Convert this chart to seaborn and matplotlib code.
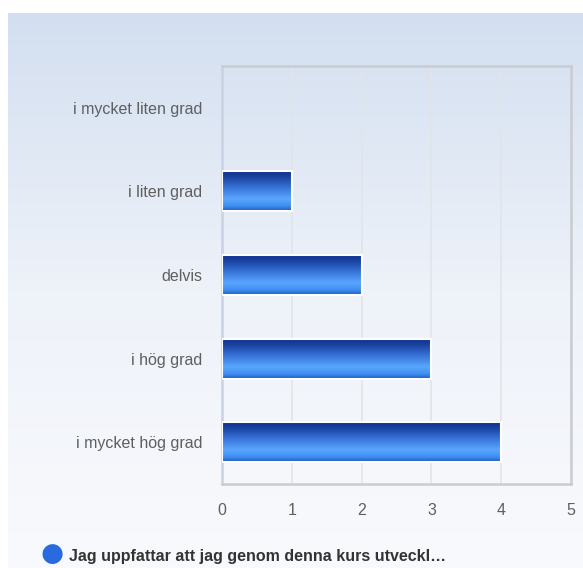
import numpy as np
import pandas as pd
import matplotlib
matplotlib.use("Agg")
import matplotlib.pyplot as plt
from matplotlib.colors import LinearSegmentedColormap
import seaborn as sns

categories = ["i mycket liten grad", "i liten grad", "delvis", "i hög grad", "i mycket hög grad"]
counts = [0, 1, 2, 3, 4]
series_name = "Jag uppfattar att jag genom denna kurs utveckl…"

df = pd.DataFrame({"kategori": categories, "antal": counts})

sns.set_style("white")
plt.rcParams["font.family"] = ["Liberation Sans", "DejaVu Sans"]

fig = plt.figure(figsize=(5.83, 5.68), dpi=100)

# background panel with vertical gradient
bg = fig.add_axes([8 / 583, 0, 1 - 8 / 583, 1 - 13 / 568], zorder=-10)
bg_cmap = LinearSegmentedColormap.from_list("bg", ["#f9fafd", "#eef2f9", "#d3dff0"])
bg.imshow(np.linspace(0, 1, 256).reshape(-1, 1), aspect="auto", cmap=bg_cmap,
          origin="lower", extent=[0, 1, 0, 1])
bg.set_axis_off()

ax = fig.add_axes([222 / 583, 1 - 484 / 568, (571 - 222) / 583, (484 - 66) / 568])
ax.patch.set_alpha(0)

sns.barplot(data=df, x="antal", y="kategori", orient="h", ax=ax,
            width=0.48, color="#2a5fc8", edgecolor="white", linewidth=1.5, zorder=3)

# vertical gradient fill for each bar
bar_cmap = LinearSegmentedColormap.from_list(
    "bar", [(0, "#1a55c0"), (0.12, "#3f8ef0"), (0.3, "#5aa6ff"),
            (0.55, "#3a78dc"), (0.8, "#1d48a8"), (1, "#0b2c88")])
grad = np.linspace(0, 1, 256).reshape(-1, 1)
for p in ax.patches:
    w = p.get_width()
    if w <= 0:
        p.set_visible(False)
        continue
    x0, y0 = p.get_x(), p.get_y()
    h = p.get_height()
    im = ax.imshow(grad, aspect="auto", cmap=bar_cmap, origin="lower",
                   extent=[x0, x0 + w, y0 + h, y0], zorder=3.5)
    im.set_clip_path(p)
    p.set_facecolor("none")
    p.set_zorder(4)

ax.set_xlim(0, 5)
ax.set_ylim(4.5, -0.5)
ax.set_xticks(range(6))
ax.xaxis.grid(True, color="#e2e4e8", linewidth=1.2, zorder=0)
ax.set_axisbelow(True)
for s in ax.spines.values():
    s.set_color("#c9ccd2")
    s.set_linewidth(1.8)
ax.spines["left"].set_color("#c8d2e4")
ax.set_xlabel("")
ax.set_ylabel("")
ax.tick_params(axis="both", length=0, labelsize=11.5, labelcolor="#5f5f5f")
ax.tick_params(axis="x", pad=14)
ax.tick_params(axis="y", pad=14)
for t in ax.get_yticklabels():
    t.set_va("center_baseline")

# legend
fig.text(52 / 583, 1 - 554 / 568, "●", fontsize=19, color="#2a6ae0",
         ha="center", va="center", family=["DejaVu Sans"])
fig.text(69 / 583, 1 - 556 / 568, series_name, fontsize=11.5, fontweight="bold",
         color="#333333", ha="left", va="center")

fig.savefig("out.png", dpi=100)
